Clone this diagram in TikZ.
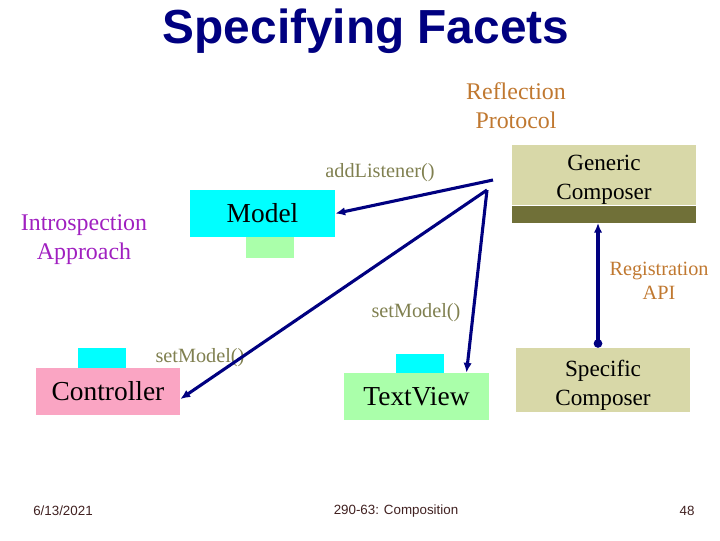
\documentclass[tikz,border=0pt]{standalone}
\usepackage{fontspec}
\setmainfont{Liberation Serif}
\setsansfont{Liberation Sans}
\usetikzlibrary{arrows.meta, calc}
\definecolor{navyblue}{RGB}{0,0,128}
\definecolor{olivetext}{RGB}{128,128,80}
\definecolor{rusttext}{RGB}{192,120,48}
\definecolor{purpletext}{RGB}{160,32,192}
\definecolor{khaki}{RGB}{216,216,168}
\definecolor{darkolive}{RGB}{112,112,56}
\definecolor{aqua}{RGB}{0,255,255}
\definecolor{mint}{RGB}{170,255,170}
\definecolor{rose}{RGB}{250,165,195}
\definecolor{footcol}{RGB}{64,32,32}
\tikzset{
    comp/.style={rectangle, inner sep=0pt, minimum width=3.625cm, minimum height=1.175cm,
        font=\fontsize{19.5}{23}\selectfont},
    stub/.style={rectangle, inner sep=0pt, minimum width=1.2cm, minimum height=0.525cm},
    composer/.style={rectangle, fill=khaki, inner sep=0pt},
    composertext/.style={align=center, yshift=-3.5pt, font=\fontsize{16.5}{20.6}\selectfont},
    call/.style={text=olivetext, font=\fontsize{14.4}{17}\selectfont},
    note/.style={align=center, font=\fontsize{17}{20.6}\selectfont},
    link/.style={draw=navyblue, line width=2.2pt, -{Latex[length=7pt,width=6pt]}},
    footer/.style={font=\sffamily\fontsize{9.5}{11}\selectfont, text=footcol}
}

\begin{document}
\begin{tikzpicture}[x=0.025cm, y=-0.025cm]
    \useasboundingbox (0,0) rectangle (720,540);

    % title
    \node[font=\sffamily\bfseries\fontsize{34}{40}\selectfont, text=navyblue] (title) at (366,31) {Specifying Facets};

    % side notes
    \node[note, text=rusttext] (refl) at (516,106) {Reflection\\Protocol};
    \node[note, text=purpletext] (intro) at (84,240) {Introspection\\Approach};

    % model, controller and view with their stubs
    \node[comp, fill=aqua] (model) at (262.5,213.5) {Model};
    \node[stub, fill=mint] (modelstub) at (270,247.5) {};

    \node[stub, fill=aqua] (ctrlstub) at (102,358.5) {};
    \node[comp, fill=rose, minimum width=3.6cm] (ctrl) at (108,391.5) {Controller};

    \node[stub, fill=aqua, minimum height=0.5cm] (viewstub) at (420,364) {};
    \node[comp, fill=mint] (view) at (416.5,396.5) {TextView};

    % composers
    \node[composer, minimum width=4.6cm, minimum height=1.5cm,
        label={[composertext]center:Generic\\Composer}] (gen) at (604,175) {};
    \node[rectangle, fill=darkolive, inner sep=0pt, minimum width=4.6cm, minimum height=0.425cm,
        anchor=north] (genbar) at (gen.south) {};
    \node[composer, minimum width=4.35cm, minimum height=1.6cm,
        label={[composertext]center:Specific\\Composer}] (spec) at (603,380) {};

    % call labels
    \node[call] (addl) at (380,173) {addListener()};
    \node[call] (setm1) at (416,313) {setModel()};
    \node[call] (setm2) at (200,358) {setModel()};
    \node[note, text=rusttext, font=\fontsize{14.4}{17}\selectfont] (regapi) at (659,281) {Registration\\API};

    % calls from the reflection protocol
    \coordinate (src1) at (493,180);
    \coordinate (src2) at (487,190);
    \draw[link] (src1) -- (model.east);
    \draw[link] (src2) -- (ctrl.-6);
    \draw[link] (src2) -- ($(view.north)+(50,0)$);

    % registration API
    \draw[link, {Circle[length=6pt]}-{Latex[length=7pt,width=6pt]}] ($(spec.north)+(-5,0)$) -- ($(genbar.south)+(-6,0)$);

    % footer
    \node[footer] (date) at (63,511) {6/13/2021};
    \node[footer] (course) at (396,511) {290-63: Composition};
    \node[footer] (page) at (687,511) {48};
\end{tikzpicture}
\end{document}
